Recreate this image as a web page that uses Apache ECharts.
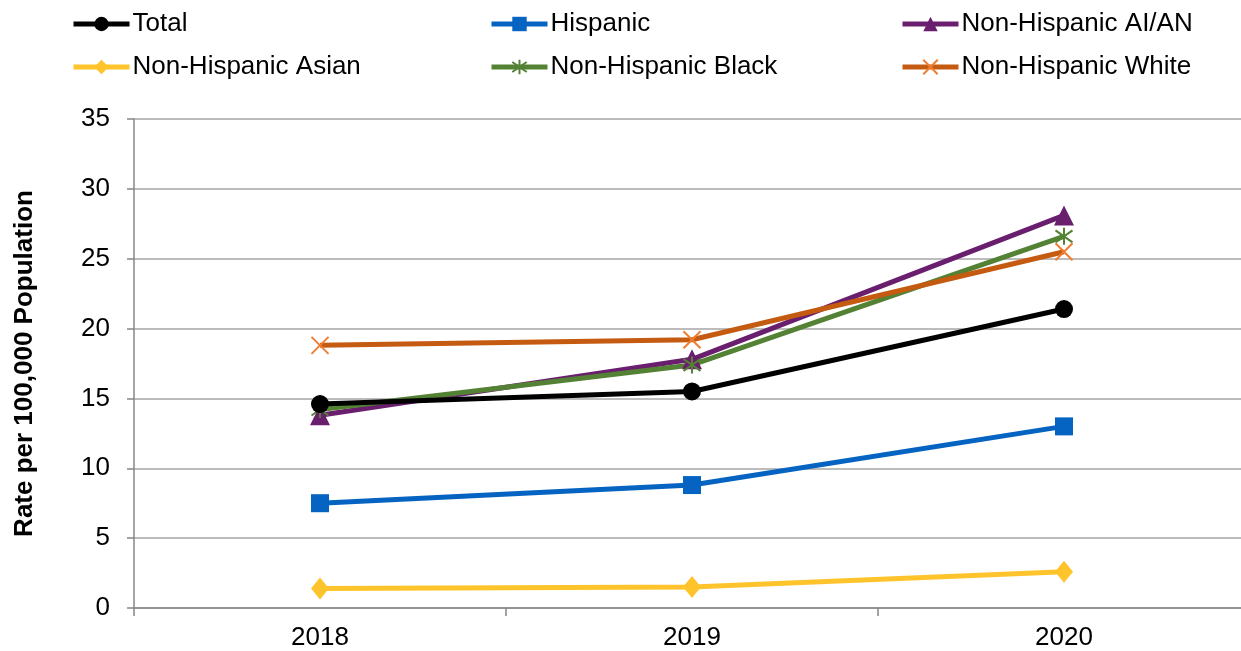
<!DOCTYPE html>
<html><head><meta charset="utf-8">
<script src="https://cdn.jsdelivr.net/npm/echarts@6/dist/echarts.min.js"></script>
<style>html,body{margin:0;padding:0;background:#fff;overflow:hidden;width:1241px;height:651px}#c{width:1250px;height:651px}</style>
</head><body><div id="c"></div>
<script>
const categories = ['2018', '2019', '2020'];
const seriesNames = ['Total', 'Hispanic', 'Non-Hispanic AI/AN', 'Non-Hispanic Asian', 'Non-Hispanic Black', 'Non-Hispanic White'];
const total = [14.6, 15.5, 21.4];
const hispanic = [7.5, 8.8, 13.0];
const aian = [13.8, 17.8, 28.1];
const asian = [1.4, 1.5, 2.6];
const black = [14.2, 17.4, 26.6];
const white = [18.8, 19.2, 25.5];
const yTicks = [0, 5, 10, 15, 20, 25, 30, 35];

const values = [total, hispanic, aian, asian, black, white];
const styles = [
  {line: '#000000', fill: '#000000', border: '#000000', bw: 0, symbol: 'circle', size: 18},
  {line: '#0563C1', fill: '#0563C1', border: '#0563C1', bw: 0, symbol: 'rect', size: 18},
  {line: '#6A1F6E', fill: '#6A1F6E', border: '#6A1F6E', bw: 0, symbol: 'triangle', size: 20},
  {line: '#FFC42C', fill: '#FFC42C', border: '#FFC42C', bw: 0, symbol: 'diamond', size: [18, 22]},
  {line: '#548235', fill: '#548235', border: '#548235', bw: 2, symbol: 'path://M5,0L5,10M0,1.5L10,8.5M0,8.5L10,1.5', size: 17},
  {line: '#C55A11', fill: '#ED7D31', border: '#ED7D31', bw: 2, symbol: 'path://M0,0L10,10M0,10L10,0', size: 17}
];
const FONT = 'Liberation Sans, Arial';

const chart = echarts.init(document.getElementById('c'), null, {renderer: 'canvas'});
const legendPos = [[71, 11], [489, 11], [900, 11], [71, 54], [489, 54], [900, 54]];
const series = seriesNames.map((n, i) => ({
  name: n, type: 'line', data: values[i],
  symbol: styles[i].symbol, symbolSize: styles[i].size,
  lineStyle: {color: styles[i].line, width: 5},
  itemStyle: {color: styles[i].fill, borderColor: styles[i].border, borderWidth: styles[i].bw},
  z: i === 0 ? 3 : 2
}));
const legends = seriesNames.map((n, i) => ({
  data: [n], left: legendPos[i][0], top: legendPos[i][1], padding: 0,
  itemWidth: 56, itemHeight: 18, itemGap: 0,
  lineStyle: {width: 5},
  textStyle: {fontFamily: FONT, fontSize: 26, lineHeight: 26, color: '#000', padding: [0, 0, 0, -2]}
}));

chart.setOption({
  animation: false,
  legend: legends,
  grid: {left: 134, right: 0, top: 119, bottom: 42},
  xAxis: {
    type: 'category', data: categories, boundaryGap: true,
    axisLine: {lineStyle: {color: '#878787', width: 1.5}},
    axisTick: {show: true, length: 8, lineStyle: {color: '#878787', width: 1.5}},
    axisLabel: {fontFamily: FONT, fontSize: 26, color: '#000', margin: 17}
  },
  yAxis: {
    type: 'value', min: 0, max: 35, interval: 5,
    name: 'Rate per 100,000 Population', nameLocation: 'middle', nameGap: 96,
    nameTextStyle: {fontFamily: FONT, fontSize: 26, fontWeight: 'bold', color: '#000'},
    axisLine: {show: true, lineStyle: {color: '#878787', width: 1.5}},
    axisTick: {show: true, length: 7, lineStyle: {color: '#878787', width: 1.5}},
    splitLine: {lineStyle: {color: '#A6A6A6', width: 1.5}},
    axisLabel: {fontFamily: FONT, fontSize: 26, color: '#000', margin: 24,
      formatter: v => yTicks.includes(v) ? String(v) : ''}
  },
  series: series
});
</script></body></html>
